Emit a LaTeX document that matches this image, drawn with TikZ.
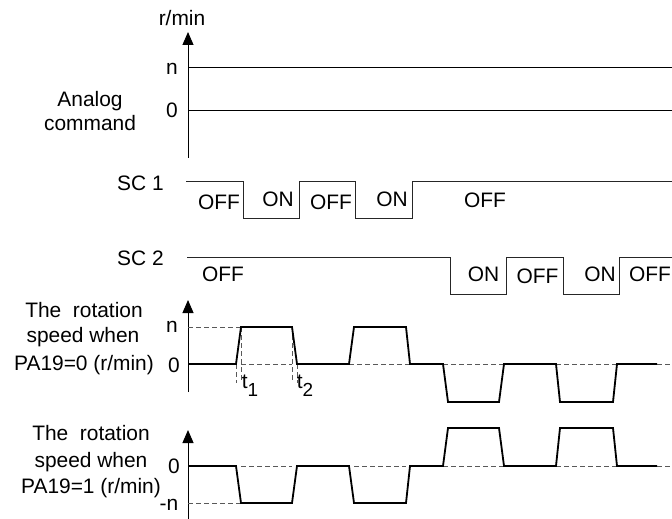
\documentclass[tikz,border=0pt]{standalone}
\usepackage{fontspec}
\setmainfont{Liberation Sans}
\usetikzlibrary{arrows.meta}
\begin{document}
\begin{tikzpicture}[x=1bp,y=-1bp,
  lbl/.style={anchor=base,inner sep=0pt,font=\fontsize{21}{24}\selectfont},
  thinline/.style={line width=0.9bp},
  sig/.style={line width=0.9bp, black!85},
  wave/.style={line width=1.8bp, line join=miter},
  guide/.style={line width=0.9bp, dash pattern=on 5bp off 3bp, black!65},
  axisline/.style={line width=1bp, -{Triangle[length=13bp,width=11bp]}}
]
\useasboundingbox (0,0) rectangle (672,519);

% ---------- analog command ----------
\coordinate (a0) at (188,158);
\coordinate (a1) at (188,32);
\draw[axisline] (a0) -- (a1);
\node[lbl] (rmin) at (182,26) {r/min};
\node[lbl] (an) at (172,75) {n};
\node[lbl] (a0l) at (172,118) {0};
\node[lbl] (anl1) at (90,107) {Analog};
\node[lbl] (anl2) at (90,131) {command};
\coordinate (nl0) at (188,67);  \coordinate (nl1) at (672,67);
\coordinate (zl0) at (188,110); \coordinate (zl1) at (672,110);
\draw[thinline] (nl0) -- (nl1);
\draw[thinline] (zl0) -- (zl1);

% ---------- SC1 ----------
\node[lbl] (sc1) at (140.5,191) {SC 1};
\draw[sig] (186,181) -- (243,181) -- (243,218) -- (299,218) -- (299,181)
  -- (355,181) -- (355,218) -- (412,218) -- (412,181) -- (672,181);
\node[lbl] (s1a) at (219,210) {OFF};
\node[lbl] (s1b) at (278,207) {ON};
\node[lbl] (s1c) at (331,210) {OFF};
\node[lbl] (s1d) at (392,207) {ON};
\node[lbl] (s1e) at (485,208) {OFF};

% ---------- SC2 ----------
\node[lbl] (sc2) at (140.5,266) {SC 2};
\draw[sig] (187,257) -- (450,257) -- (450,294) -- (506,294) -- (506,257)
  -- (563,257) -- (563,294) -- (619,294) -- (619,257) -- (672,257);
\node[lbl] (s2a) at (223,281) {OFF};
\node[lbl] (s2b) at (483.5,281) {ON};
\node[lbl] (s2c) at (537.5,283) {OFF};
\node[lbl] (s2d) at (600,281) {ON};
\node[lbl] (s2e) at (650,281) {OFF};

% ---------- speed, PA19=0 ----------
\node[lbl] (p0a) at (84,317) {The\ \ rotation};
\node[lbl] (p0b) at (83,342) {speed when};
\node[lbl] (p0c) at (84,370) {PA19=0 (r/min)};
\node[lbl] (p0n) at (172,332) {n};
\node[lbl] (p0z) at (174,372) {0};
\coordinate (b0) at (188,392);
\coordinate (b1) at (188,300);
\draw[axisline] (b0) -- (b1);
% guides
\draw[guide] (188,327) -- (241,327);
\draw[guide] (241,364) -- (292,364);
\draw[guide] (349,364) -- (410,364);
\draw[guide] (443,364) -- (504,364);
\draw[guide] (556,364) -- (617,364);
\draw[guide] (657,364) -- (672,364);
\draw[guide] (236,364) -- (236,383);
\draw[guide] (241,327) -- (241,383);
\draw[guide] (292,327) -- (292,383);
\draw[guide] (297,364) -- (297,383);
\node[lbl] (t1) at (250,388) {t\raisebox{-8bp}{\fontsize{19}{19}\selectfont 1}};
\node[lbl] (t2) at (305,388) {t\raisebox{-8bp}{\fontsize{19}{19}\selectfont 2}};
\draw[wave] (188,364) -- (236,364) -- (241,327) -- (292,327) -- (297,364)
  -- (349,364) -- (354,327) -- (406,327) -- (410,364)
  -- (443,364) -- (448,402) -- (499,402) -- (504,364)
  -- (556,364) -- (560,402) -- (613,402) -- (617,364) -- (657,364);

% ---------- speed, PA19=1 ----------
\node[lbl] (p1a) at (91,440) {The\ \ rotation};
\node[lbl] (p1b) at (91,467) {speed when};
\node[lbl] (p1c) at (91,493) {PA19=1 (r/min)};
\node[lbl] (p1z) at (174,473) {0};
\node[lbl] (p1n) at (169,510) {-n};
\coordinate (c0) at (188,519);
\coordinate (c1) at (188,430);
\draw[axisline] (c0) -- (c1);
\draw[guide] (188,503) -- (241,503);
\draw[guide] (241,466) -- (292,466);
\draw[guide] (354,466) -- (406,466);
\draw[guide] (443,466) -- (504,466);
\draw[guide] (556,466) -- (617,466);
\draw[guide] (657,466) -- (672,466);
\draw[wave] (188,466) -- (236,466) -- (241,503) -- (292,503) -- (297,466)
  -- (349,466) -- (354,503) -- (406,503) -- (410,466)
  -- (443,466) -- (448,428) -- (499,428) -- (504,466)
  -- (556,466) -- (560,428) -- (613,428) -- (617,466) -- (657,466);
\end{tikzpicture}
\end{document}
